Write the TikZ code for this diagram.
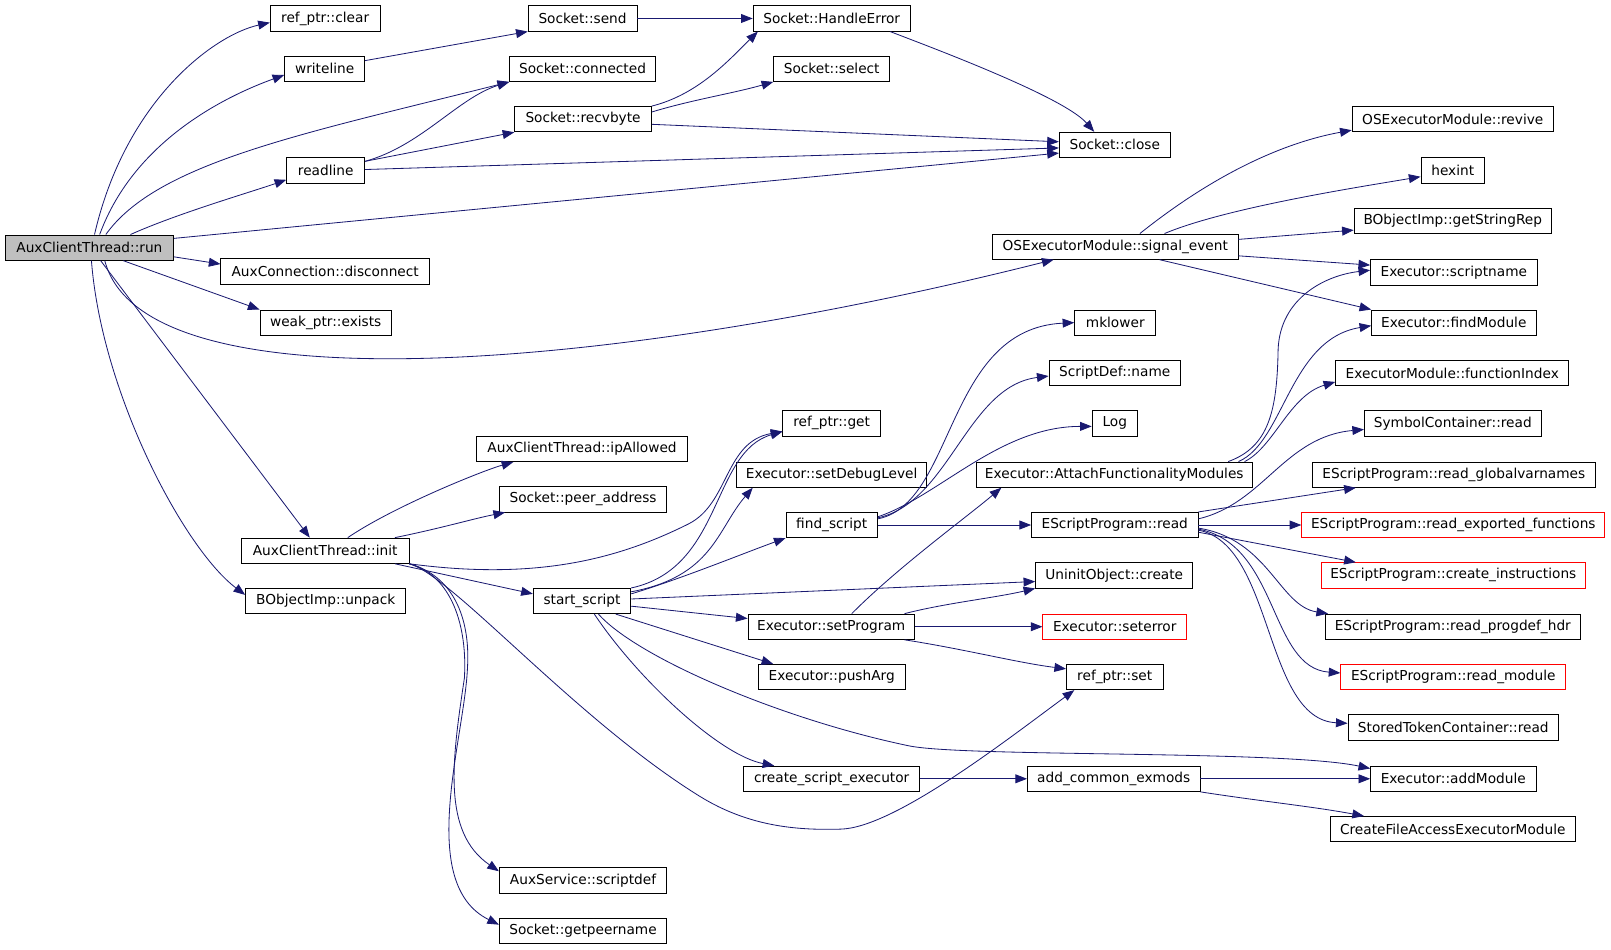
\documentclass[tikz,border=0pt]{standalone}
\usepackage{fontspec}
\setmainfont{DejaVu Sans}
\usetikzlibrary{arrows.meta,calc}
\definecolor{navy}{HTML}{191970}
\definecolor{boxgray}{HTML}{BFBFBF}
\tikzset{
  fn/.style={draw, line width=0.6pt, minimum height=18.5pt, inner sep=0pt, fill=white, font=\fontsize{10}{12}\selectfont},
  bw/.style={minimum width=#1*0.75pt},
  warn/.style={draw=red},
  call/.style={draw=navy, line width=0.6pt, -{Triangle[length=8.5pt,width=6.5pt]}},
}
\begin{document}
\begin{tikzpicture}[x=0.75pt,y=0.75pt,yscale=-1,xscale=1]
\useasboundingbox (0,0) rectangle (1568,924);

% Column 1
\node[fn,bw=164,fill=boxgray] (run) at (87,241) {AuxClientThread::run};
% Column 2
\node[fn,bw=107] (clear) at (316.5,18) {ref\_ptr::clear};
\node[fn,bw=78] (writeline) at (316,67) {writeline};
\node[fn,bw=76] (readline) at (317,166) {readline};
\node[fn,bw=203] (disconnect) at (316.5,264) {AuxConnection::disconnect};
\node[fn,bw=128] (exists) at (317,314) {weak\_ptr::exists};
\node[fn,bw=163] (init) at (316.5,536) {AuxClientThread::init};
\node[fn,bw=156] (unpack) at (317,585) {BObjectImp::unpack};
% Column 3
\node[fn,bw=106] (send) at (567,18) {Socket::send};
\node[fn,bw=142] (connected) at (567,67) {Socket::connected};
\node[fn,bw=133] (recvbyte) at (567.5,116) {Socket::recvbyte};
\node[fn,bw=205] (ipallowed) at (566.5,437) {AuxClientThread::ipAllowed};
\node[fn,bw=163] (peeraddr) at (567.5,486) {Socket::peer\_address};
\node[fn,bw=95] (startscript) at (566.5,585) {start\_script};
\node[fn,bw=163] (scriptdef) at (567.5,857) {AuxService::scriptdef};
\node[fn,bw=163] (getpeername) at (567.5,906) {Socket::getpeername};
% Column 4
\node[fn,bw=153] (handleerror) at (809.5,18) {Socket::HandleError};
\node[fn,bw=113] (select) at (809.5,67) {Socket::select};
\node[fn,bw=95] (refget) at (809.5,412) {ref\_ptr::get};
\node[fn,bw=185] (setdebug) at (809.5,462) {Executor::setDebugLevel};
\node[fn,bw=89] (findscript) at (809.5,511) {find\_script};
\node[fn,bw=162] (setprogram) at (809,610) {Executor::setProgram};
\node[fn,bw=143] (pusharg) at (809.5,659) {Executor::pushArg};
\node[fn,bw=171] (cse) at (809.5,758) {create\_script\_executor};
% Column 5
\node[fn,bw=108] (sockclose) at (1085,141) {Socket::close};
\node[fn,bw=239] (signal) at (1085.5,240) {OSExecutorModule::signal\_event};
\node[fn,bw=79] (mklower) at (1085.5,314) {mklower};
\node[fn,bw=128] (sdname) at (1085,363) {ScriptDef::name};
\node[fn,bw=44] (log) at (1085,412) {Log};
\node[fn,bw=269] (attach) at (1084.5,462) {Executor::AttachFunctionalityModules};
\node[fn,bw=162] (espread) at (1085,511) {EScriptProgram::read};
\node[fn,bw=153] (uninit) at (1084.5,560) {UninitObject::create};
\node[fn,bw=140,warn] (seterror) at (1085,610) {Executor::seterror};
\node[fn,bw=94] (refset) at (1085,659) {ref\_ptr::set};
\node[fn,bw=168] (addcommon) at (1084,758) {add\_common\_exmods};
% Column 6
\node[fn,bw=196] (revive) at (1414,116) {OSExecutorModule::revive};
\node[fn,bw=62] (hexint) at (1414,166) {hexint};
\node[fn,bw=192] (getstrrep) at (1414,215) {BObjectImp::getStringRep};
\node[fn,bw=162] (scriptname) at (1415,265) {Executor::scriptname};
\node[fn,bw=160] (findmodule) at (1415,314) {Executor::findModule};
\node[fn,bw=227] (funcindex) at (1413.5,363) {ExecutorModule::functionIndex};
\node[fn,bw=172] (symread) at (1414,412) {SymbolContainer::read};
\node[fn,bw=276] (readglobals) at (1415,462) {EScriptProgram::read\_globalvarnames};
\node[fn,bw=295,warn] (readexported) at (1414.5,511) {EScriptProgram::read\_exported\_functions};
\node[fn,bw=257,warn] (createinstr) at (1414.5,560) {EScriptProgram::create\_instructions};
\node[fn,bw=248] (readprogdef) at (1414,610) {EScriptProgram::read\_progdef\_hdr};
\node[fn,bw=219,warn] (readmodule) at (1414.5,659) {EScriptProgram::read\_module};
\node[fn,bw=205] (storedread) at (1414.5,708) {StoredTokenContainer::read};
\node[fn,bw=161] (addmodule) at (1414.5,758) {Executor::addModule};
\node[fn,bw=238] (createfile) at (1414,807) {CreateFileAccessExecutorModule};

% calls from run
\draw[call] ($(run.north)+(5,0)$) .. controls (122,98) and (208,34) .. ($(clear.west)+(0,4)$);
\draw[call] ($(run.north)+(10,0)$) .. controls (132,133) and (227,91) .. ($(writeline.west)+(0,6)$);
\draw[call] ($(run.north)+(16,0)$) .. controls (153,158) and (296,130) .. (connected.south west);
\draw[call] ($(run.north)+(40,0)$) .. controls (172,208) and (244,187) .. ($(readline.west)+(0,9)$);
\draw[call] ($(run.east)+(0,-9)$) -- ($(sockclose.west)+(0,8)$);
\draw[call] ($(run.east)+(0,9)$) -- ($(disconnect.west)+(0,-7)$);
\draw[call] ($(run.south)+(33,0)$) -- (exists.north west);
\draw[call] ($(run.south)+(15,0)$) .. controls (140,400) and (600,360) .. ($(signal.south)+(-60,0)$);
\draw[call] ($(run.south)+(11,0)$) -- ($(init.north)+(-15,0)$);
\draw[call] ($(run.south)+(2,0)$) .. controls (99,383) and (179,534) .. ($(unpack.west)+(0,-6)$);

% socket calls
\draw[call] ($(writeline.east)+(0,-8)$) -- (send.south west);
\draw[call] (send) -- (handleerror);
\draw[call] ($(handleerror.south east)+(-20,0)$) .. controls (906,46) and (1035,94) .. ($(sockclose.north)+(-20,0)$);
\draw[call] ($(readline.east)+(0,-9)$) .. controls (410,142) and (446,95) .. (connected.south west);
\draw[call] ($(readline.east)+(0,-9)$) -- (recvbyte.south west);
\draw[call] ($(readline.east)+(0,-1)$) -- ($(sockclose.west)+(0,3)$);
\draw[call] (recvbyte.north east) .. controls (679,92) and (708,60) .. ($(handleerror.south west)+(5,0)$);
\draw[call] ($(recvbyte.east)+(0,-7)$) .. controls (674,97) and (713,91) .. (select.south west);
\draw[call] ($(recvbyte.east)+(0,5)$) -- ($(sockclose.west)+(0,-3)$);

% signal_event
\draw[call] ($(signal.north)+(24,0)$) .. controls (1200,155) and (1270,135) .. ($(revive.south west)+(0,-2)$);
\draw[call] ($(signal.north)+(48,0)$) .. controls (1194,202) and (1323,182) .. ($(hexint.west)+(0,6)$);
\draw[call] ($(signal.east)+(0,-7)$) -- ($(getstrrep.west)+(0,9)$);
\draw[call] ($(signal.east)+(0,9)$) -- ($(scriptname.west)+(0,-7)$);
\draw[call] ($(signal.south)+(43,0)$) -- (findmodule.north west);

% init
\draw[call] ($(init.north)+(22,0)$) .. controls (383,493) and (470,458) .. ($(ipallowed.south west)+(36,0)$);
\draw[call] ($(init.north east)+(-14,0)$) .. controls (430,514) and (460,505) .. ($(peeraddr.south west)+(6,0)$);
\draw[call] (init.south east) .. controls (520,565) and (600,545) .. (670,510) .. controls (710,490) and (705,430) .. ($(refget.west)+(0,8)$);
\draw[call] ($(init.south east)+(-14,0)$) -- ($(startscript.west)+(0,-7)$);
\draw[call] (init.south east) .. controls (440,560) and (455,610) .. (452,660) .. controls (440,740) and (430,810) .. ($(scriptdef.west)+(0,-9)$);
\draw[call] (init.south east) .. controls (440,560) and (458,600) .. (455,650) .. controls (452,720) and (405,860) .. ($(getpeername.west)+(0,-6)$);
\draw[call] (init.south east) .. controls (440,560) and (560,700) .. (681,775) .. controls (731,806) and (780,808) .. (818,807) .. controls (870,806) and (980,720) .. ($(refset.south west)+(8,0)$);

% start_script
\draw[call] (startscript.north east) .. controls (704,553) and (692,440) .. ($(refget.west)+(0,8)$);
\draw[call] ($(startscript.east)+(0,-9)$) .. controls (694,561) and (698,515) .. ($(setdebug.south west)+(16,0)$);
\draw[call] ($(startscript.east)+(0,-7)$) .. controls (664,563) and (725,538) .. (findscript.south west);
\draw[call] ($(startscript.east)+(0,-2)$) -- ($(uninit.west)+(0,6)$);
\draw[call] ($(startscript.east)+(0,5)$) -- ($(setprogram.west)+(0,-8)$);
\draw[call] ($(startscript.south east)+(-15,0)$) -- ($(pusharg.north west)+(15,0)$);
\draw[call] ($(startscript.south)+(16,0)$) .. controls (620,640) and (760,700) .. (885,726) .. controls (940,737) and (1250,730) .. ($(addmodule.west)+(0,-10)$);
\draw[call] ($(startscript.south)+(12,0)$) .. controls (620,660) and (700,735) .. ($(cse.north west)+(30,0)$);

% find_script
\draw[call] ($(findscript.east)+(0,-6)$) .. controls (930,490) and (920,320) .. (mklower.west);
\draw[call] ($(findscript.east)+(0,-7)$) .. controls (924,489) and (941,376) .. ($(sdname.west)+(0,3)$);
\draw[call] ($(findscript.east)+(0,-8)$) .. controls (914,483) and (973,415) .. ($(log.west)+(0,3)$);
\draw[call] (findscript) -- (espread);

% setProgram
\draw[call] ($(setprogram.north)+(20,0)$) .. controls (874,552) and (940,504) .. ($(attach.south west)+(25,0)$);
\draw[call] ($(setprogram.north east)+(-10,0)$) .. controls (920,587) and (968,582) .. (uninit.south west);
\draw[call] (setprogram) -- (seterror);
\draw[call] ($(setprogram.south east)+(-10,0)$) .. controls (940,632) and (990,645) .. ($(refset.west)+(0,-8)$);

% executor setup
\draw[call] (cse) -- (addcommon);
\draw[call] (addcommon) -- (addmodule);
\draw[call] (addcommon.south east) .. controls (1228,780) and (1278,785) .. ($(createfile.north west)+(33,0)$);

% AttachFunctionalityModules
\draw[call] ($(attach.north east)+(-24,0)$) .. controls (1235,435) and (1243,400) .. (1244,340) .. controls (1246,290) and (1290,268) .. ($(scriptname.west)+(0,-2)$);
\draw[call] ($(attach.north east)+(-14,0)$) .. controls (1250,430) and (1255,330) .. ($(findmodule.west)+(0,3)$);
\draw[call] ($(attach.north east)+(-8,0)$) .. controls (1240,435) and (1255,385) .. ($(funcindex.south west)+(0,-4)$);

% EScriptProgram::read
\draw[call] ($(espread.east)+(0,-6)$) .. controls (1230,490) and (1250,425) .. ($(symread.west)+(0,6)$);
\draw[call] (espread.north east) -- ($(readglobals.south west)+(43,0)$);
\draw[call] (espread) -- (readexported);
\draw[call] ($(espread.east)+(0,7)$) -- ($(createinstr.north west)+(34,0)$);
\draw[call] ($(espread.east)+(0,3)$) .. controls (1235,525) and (1245,590) .. ($(readprogdef.north west)+(3,0)$);
\draw[call] ($(espread.east)+(0,4)$) .. controls (1245,530) and (1235,650) .. ($(readmodule.west)+(0,-4)$);
\draw[call] ($(espread.east)+(0,5)$) .. controls (1240,530) and (1230,700) .. ($(storedread.west)+(0,-4)$);

\end{tikzpicture}
\end{document}
